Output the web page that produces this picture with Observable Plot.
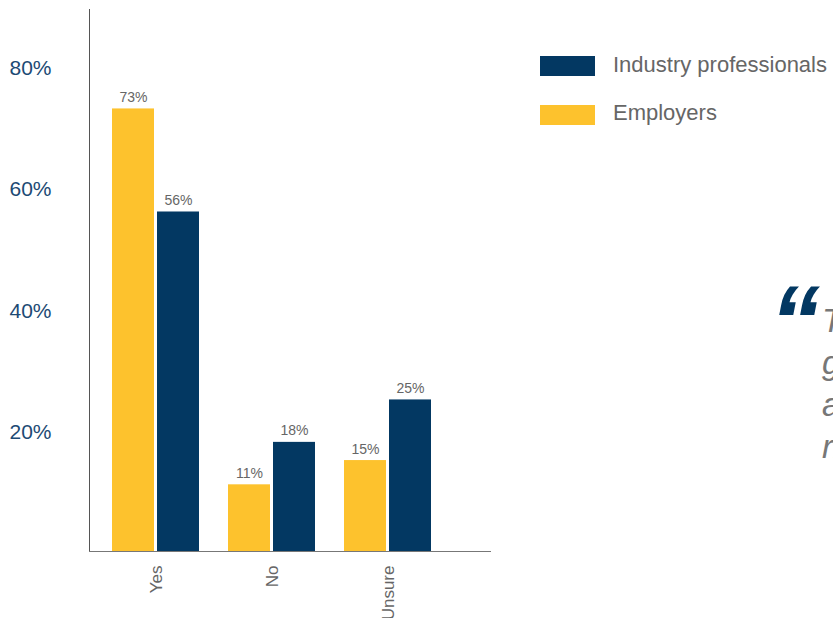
<!DOCTYPE html>
<html>
<head>
<meta charset="utf-8">
<script src="https://cdn.jsdelivr.net/npm/d3@7"></script>
<script src="https://cdn.jsdelivr.net/npm/@observablehq/plot@0.6"></script>
<style>
  html, body { margin: 0; padding: 0; background: #fff; overflow: hidden; }
  #wrap { position: relative; width: 833px; height: 618px; overflow: hidden; font-family: "Liberation Sans", Arial, sans-serif; }
  #chart, #axes { position: absolute; left: 0; top: 0; }
  .leg-sw { position: absolute; width: 55px; height: 20px; }
  .leg-tx { position: absolute; font-size: 22px; line-height: 22px; color: #666; white-space: nowrap; }
  #qmark { position: absolute; font-size: 100px; line-height: 100px; font-weight: bold; font-style: italic; color: #033862; }
  #qtext { position: absolute; font-size: 33px; line-height: 42px; font-style: italic; color: #777; white-space: nowrap; }
</style>
</head>
<body>
<div id="wrap">
  <div id="chart"></div>
  <div id="axes"></div>
  <div class="leg-sw" id="sw1" style="left:540px; top:56px;"></div>
  <div class="leg-tx" id="tx1" style="left:613px; top:54px;"></div>
  <div class="leg-sw" id="sw2" style="left:540px; top:105px;"></div>
  <div class="leg-tx" id="tx2" style="left:613px; top:102px;"></div>
  <div id="qmark" style="left:770px; top:271px;">“</div>
  <div id="qtext" style="left:822px; top:300px;">There is a<br>growing need for<br>applied skills<br>right now.</div>
</div>
<script>
const categories = ["Yes", "No", "Unsure"];
const seriesNames = ["Employers", "Industry professionals"];
const employersValues = [73, 11, 15];
const industryValues = [56, 18, 25];
const yTickValues = [20, 40, 60, 80];
const legendOrder = ["Industry professionals", "Employers"];

const navy = "#033862";
const yellow = "#fdc22d";
const seriesColors = [yellow, navy];

const rows = [];
categories.forEach((c, i) => {
  rows.push({category: c, series: seriesNames[0], value: employersValues[i]});
  rows.push({category: c, series: seriesNames[1], value: industryValues[i]});
});

const layout = {
  width: 833,
  height: 618,
  marginLeft: 89,
  marginRight: 343,
  marginTop: 9,
  marginBottom: 67
};
const yScale = {domain: [0, 89.4], axis: null};
const fontFamily = "Liberation Sans, Arial, sans-serif";

const chart = Plot.plot({
  ...layout,
  style: {fontFamily, background: "transparent"},
  fx: {domain: categories, paddingInner: 0.238, paddingOuter: 0.336, align: 0.28, label: null},
  x: {domain: seriesNames, paddingInner: 0.065, paddingOuter: 0, axis: null},
  y: yScale,
  color: {domain: seriesNames, range: seriesColors},
  marks: [
    Plot.barY(rows, {fx: "category", x: "series", y: "value", fill: "series"}),
    Plot.text(rows, {fx: "category", x: "series", y: "value", text: d => d.value + "%", dy: -7, lineAnchor: "bottom", fill: "#666", fontSize: 14}),
    Plot.axisFx({anchor: "bottom", tickRotate: -90, tickSize: 0, tickPadding: 14, fontSize: 17, fill: "#666", color: "#666", label: null})
  ]
});
document.getElementById("chart").appendChild(chart);

const axes = Plot.plot({
  ...layout,
  style: {fontFamily, background: "transparent"},
  y: yScale,
  marks: [
    Plot.axisY({ticks: yTickValues, tickFormat: d => d + "%", tickSize: 0, tickPadding: 38, fontSize: 21, fill: "#1d4a74", color: "#1d4a74", dy: 2, label: null}),
    Plot.frame({anchor: "left", stroke: "#555", strokeOpacity: 1}),
    Plot.frame({anchor: "bottom", stroke: "#777", strokeOpacity: 1})
  ]
});
document.getElementById("axes").appendChild(axes);

const sw = [document.getElementById("sw1"), document.getElementById("sw2")];
const tx = [document.getElementById("tx1"), document.getElementById("tx2")];
legendOrder.forEach((name, i) => {
  sw[i].style.background = seriesColors[seriesNames.indexOf(name)];
  tx[i].textContent = name;
});
</script>
</body>
</html>
